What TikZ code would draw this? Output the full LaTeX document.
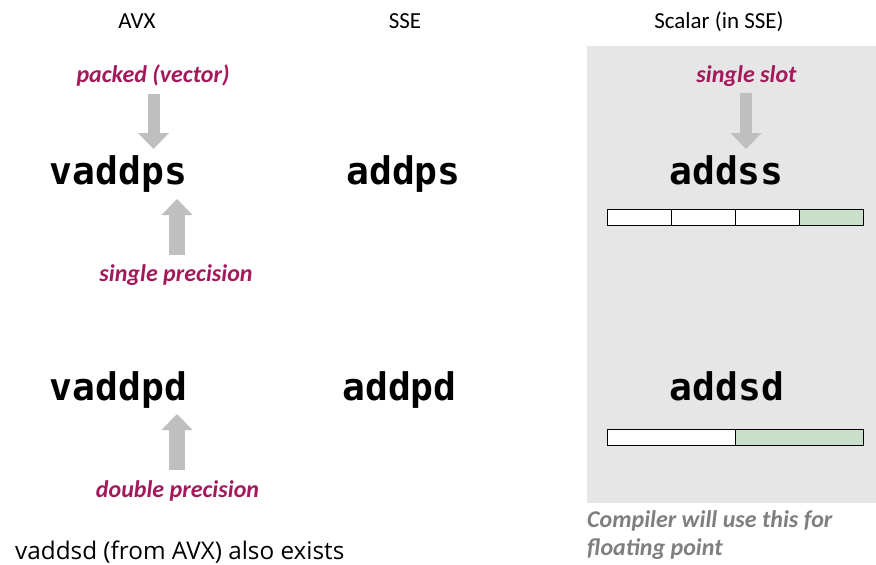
\documentclass[tikz,border=0pt]{standalone}
\usepackage{fontspec}
\setmainfont{Carlito}
\newfontfamily\labelfont{Carlito}
\newfontfamily\footfont{Open Sans}
\newfontfamily\codefont{DejaVu Sans Mono}
\usetikzlibrary{arrows.meta}
\definecolor{berry}{HTML}{A3195B}
\definecolor{arrowgray}{HTML}{BFBFBF}
\definecolor{panelgray}{HTML}{E6E6E6}
\definecolor{slotgreen}{HTML}{C9DFCA}
\definecolor{notegray}{HTML}{7F7F7F}
\begin{document}
\begin{tikzpicture}[x=1pt,y=-1pt,
  hdr/.style={font=\fontsize{23}{25}\selectfont, inner sep=0pt, anchor=base},
  foot/.style={font=\footfont\fontsize{24.3}{26}\selectfont, inner sep=0pt, anchor=base west},
  lbl/.style={font=\labelfont\bfseries\itshape\fontsize{24}{26}\selectfont, text=berry, inner sep=0pt, anchor=base},
  code/.style={font=\codefont\bfseries\fontsize{38}{40}\selectfont, inner sep=0pt, anchor=base},
  note/.style={font=\labelfont\bfseries\itshape\fontsize{24}{26}\selectfont, text=notegray, inner sep=0pt, anchor=base west},
  downarrow/.style={draw=arrowgray, line width=12pt, -{Triangle[width=31pt,length=16pt,line width=0pt]}},
  uparrow/.style={draw=arrowgray, line width=16pt, -{Triangle[width=31pt,length=16pt,line width=0pt]}},
  slot/.style={draw=black, line width=0.9pt, fill=white},
  slotg/.style={draw=black, line width=0.9pt, fill=slotgreen}]
\useasboundingbox (0,0) rectangle (876,565);
\fill[panelgray] (587,46) rectangle (876,503);

% headers
\node[hdr] (hAVX) at (137,28) {AVX};
\node[hdr] (hSSE) at (405,28) {SSE};
\node[hdr] (hSCA) at (719,28) {Scalar (in SSE)};

% code nodes
\node[code] (vaddps) at (118.5,184) {vaddps};
\node[code] (addps) at (403.5,184) {addps};
\node[code] (addss) at (726.5,184) {addss};
\node[code] (vaddpd) at (118.5,400) {vaddpd};
\node[code] (addpd) at (399.5,400) {addpd};
\node[code] (addsd) at (727,400) {addsd};

% labels
\node[lbl] (packed) at (153,82) {packed (vector)};
\node[lbl] (single) at (176,281) {single precision};
\node[lbl] (slotlbl) at (746.5,82) {single slot};
\node[lbl] (double) at (177.5,497) {double precision};

% arrows
\coordinate (a1s) at (153.5,94);  \coordinate (a1e) at (153.5,149);
\coordinate (a2s) at (177,255);   \coordinate (a2e) at (177,199);
\coordinate (a3s) at (746,93);    \coordinate (a3e) at (746,149);
\coordinate (a4s) at (177,470);   \coordinate (a4e) at (177,414);
\draw[downarrow] (a1s) -- (a1e);
\draw[uparrow] (a2s) -- (a2e);
\draw[downarrow] (a3s) -- (a3e);
\draw[uparrow] (a4s) -- (a4e);

% registers
\path[slot] (607,209) rectangle (671,225);
\path[slot] (671,209) rectangle (735,225);
\path[slot] (735,209) rectangle (799,225);
\path[slotg] (799,209) rectangle (863,225);
\path[slot] (607,429) rectangle (735,445);
\path[slotg] (735,429) rectangle (863,445);

% notes
\node[note] (comp1) at (587,527) {Compiler will use this for};
\node[note] (comp2) at (587,555) {floating point};
\node[foot] (footer) at (15,559) {vaddsd (from AVX) also exists};
\end{tikzpicture}
\end{document}
